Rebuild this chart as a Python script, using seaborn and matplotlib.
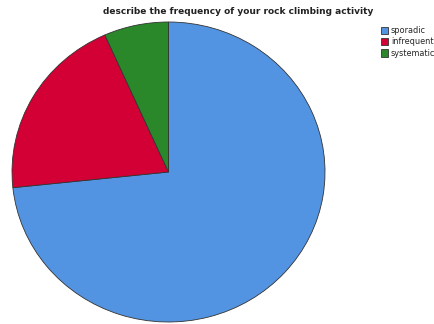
import matplotlib
matplotlib.use("Agg")
import matplotlib.pyplot as plt
import seaborn as sns
from matplotlib.patches import Patch

# values
categories = ["sporadic", "infrequent", "systematic"]
counts = [11, 3, 1]
colors = ["#5294e2", "#d20034", "#2a882b"]
title = "describe the frequency of your rock climbing activity"

sns.set_style("white")
plt.rcParams["font.family"] = ["DejaVu Sans"]

fig = plt.figure(figsize=(4.35, 3.24), dpi=100)
ax = fig.add_axes([12 / 435, 2 / 324, 313 / 435, 300 / 324])

ax.pie(counts, colors=colors, startangle=90, counterclock=False, radius=1,
       wedgeprops=dict(edgecolor="#333333", linewidth=0.6))
ax.set_xlim(-1, 1)
ax.set_ylim(-1, 1)
ax.set_aspect("auto")
ax.axis("off")

fig.text(238 / 435, 1 - 12 / 324, title, ha="center", va="center",
         fontsize=6.5, fontweight="bold", color="#222222")

handles = [Patch(facecolor=c, edgecolor="#333333", linewidth=0.6) for c in colors]
fig.legend(handles, categories, loc="upper left", bbox_to_anchor=(381 / 435, 1 - 26 / 324),
           frameon=False, fontsize=5.9, handlelength=0.9, handleheight=1.0,
           handletextpad=0.3, labelspacing=0.3, borderaxespad=0, borderpad=0)

fig.savefig("out.png", dpi=100)
